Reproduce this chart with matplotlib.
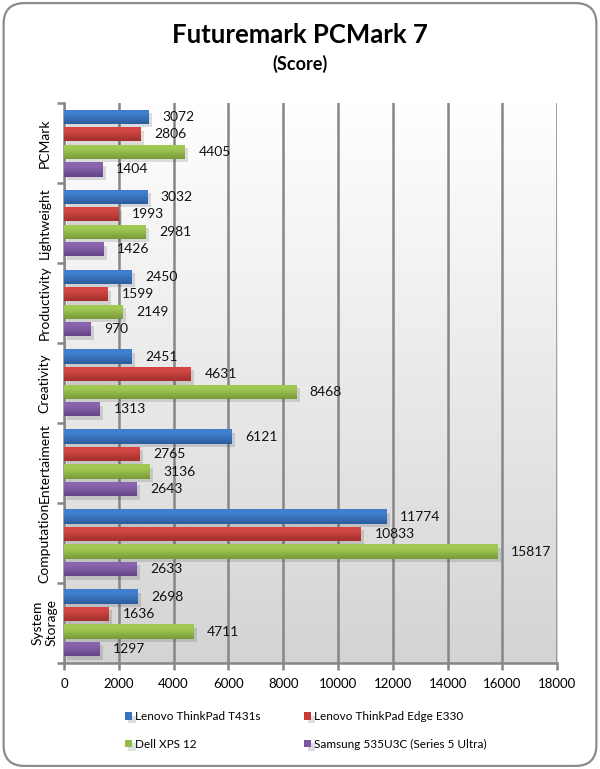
import matplotlib
matplotlib.use("Agg")
import matplotlib.pyplot as plt
import numpy as np
from matplotlib.patches import FancyBboxPatch
import matplotlib.patheffects as pe
from matplotlib.colors import LinearSegmentedColormap

categories = ["PCMark", "Lightweight", "Productivity", "Creativity",
              "Entertaiment", "Computation", "System\nStorage"]
series_names = ["Lenovo ThinkPad T431s", "Lenovo ThinkPad Edge E330",
                "Dell XPS 12", "Samsung 535U3C (Series 5 Ultra)"]
t431s = [3072, 3032, 2450, 2451, 6121, 11774, 2698]
e330 = [2806, 1993, 1599, 4631, 2765, 10833, 1636]
xps12 = [4405, 2981, 2149, 8468, 3136, 15817, 4711]
samsung = [1404, 1426, 970, 1313, 2643, 2633, 1297]
xticks = [0, 2000, 4000, 6000, 8000, 10000, 12000, 14000, 16000, 18000]

colors = ["#3a72c0", "#c43b38", "#92bb48", "#7a55a0"]
grad_top = ["#407ece", "#d24744", "#a2c854", "#8a64ae"]
grad_bot = ["#2d5c9c", "#a12f2c", "#78993a", "#654386"]
series = [t431s, e330, xps12, samsung]

plt.rcParams['font.family'] = ['Lato', 'DejaVu Sans']

fig = plt.figure(figsize=(6.0, 7.69), dpi=100)
border = FancyBboxPatch((0.006, 0.004), 0.988, 0.992,
                        boxstyle="round,pad=0,rounding_size=0.035",
                        transform=fig.transFigure, facecolor="none",
                        edgecolor="#8c8c8c", linewidth=1.6,
                        mutation_aspect=600/769, zorder=10)
fig.patches.append(border)

ax = fig.add_axes([0.1067, 0.138, 0.822, 0.728])
ax.set_xlim(0, 18000)
n = len(categories)
ax.set_ylim(n, 0)

grad = np.linspace(0, 1, 256).reshape(-1, 1)
cmap = LinearSegmentedColormap.from_list("bg", ["#ffffff", "#d4d4d4"])
ax.imshow(grad, extent=[0, 18000, n, 0], aspect="auto", cmap=cmap,
          zorder=0, origin="upper")

bar_h = 0.18
step = 0.219
handles = []
bgrad = np.concatenate([np.zeros(30), np.linspace(0, 1, 70)]).reshape(-1, 1)
for i, (vals, c, name) in enumerate(zip(series, colors, series_names)):
    ypos = np.arange(n) + 0.5 + (i - 1.5) * step
    bars = ax.barh(ypos, vals, height=bar_h, color=c, label=name, zorder=3,
                   linewidth=0,
                   path_effects=[pe.SimplePatchShadow(offset=(2.5, -2.5),
                                                      alpha=0.15),
                                 pe.Normal()])
    handles.append(bars)
    bcmap = LinearSegmentedColormap.from_list("b%d" % i, [grad_top[i], grad_bot[i]])
    for rect, y, v in zip(bars.patches, ypos, vals):
        im = ax.imshow(bgrad, extent=[0, v, y + bar_h / 2, y - bar_h / 2],
                       aspect="auto", cmap=bcmap, zorder=3.5, origin="upper",
                       interpolation="bilinear")
        im.set_clip_path(rect)
        ax.text(v + 500, y, str(v), va="center", ha="left", fontsize=10,
                color="#111111", zorder=4)

ax.set_xlim(0, 18000)
ax.set_ylim(n, 0)
ax.set_xticks(xticks)
ax.set_xticklabels([str(t) for t in xticks], fontsize=9.5)
ax.xaxis.grid(True, color="#868686", linewidth=1.8, zorder=1)
ax.set_axisbelow(True)
ax.set_yticks(np.arange(n) + 0.5)
ax.set_yticklabels(categories, rotation=90, va="center", ha="center",
                   fontsize=10, multialignment="center")
ax.tick_params(axis="y", length=0, pad=14)
ax.set_yticks(np.arange(n + 1), minor=True)
ax.tick_params(axis="y", which="minor", length=5, width=1.8, color="#868686")
ax.tick_params(axis="x", length=5, width=1.8, color="#868686", pad=6)
for s in ["top", "right"]:
    ax.spines[s].set_visible(False)
for s in ["left", "bottom"]:
    ax.spines[s].set_color("#868686")
    ax.spines[s].set_linewidth(1.8)

fig.text(0.5, 1 - 43 / 769, "Futuremark PCMark 7", ha="center", va="baseline",
         fontsize=18.5, fontweight="bold")
fig.text(0.5, 1 - 70 / 769, "(Score)", ha="center", va="baseline",
         fontsize=13, fontweight="bold")

order = [0, 2, 1, 3]
fig.legend([handles[k] for k in order], [series_names[k] for k in order],
           loc="upper left", bbox_to_anchor=(125 / 600, 1 - 711 / 769), ncol=2,
           frameon=False, fontsize=8.5, handlelength=0.6, handleheight=0.6,
           handletextpad=0.25, columnspacing=3.7, labelspacing=1.4,
           borderpad=0, borderaxespad=0)

fig.savefig("out.png", dpi=100)
